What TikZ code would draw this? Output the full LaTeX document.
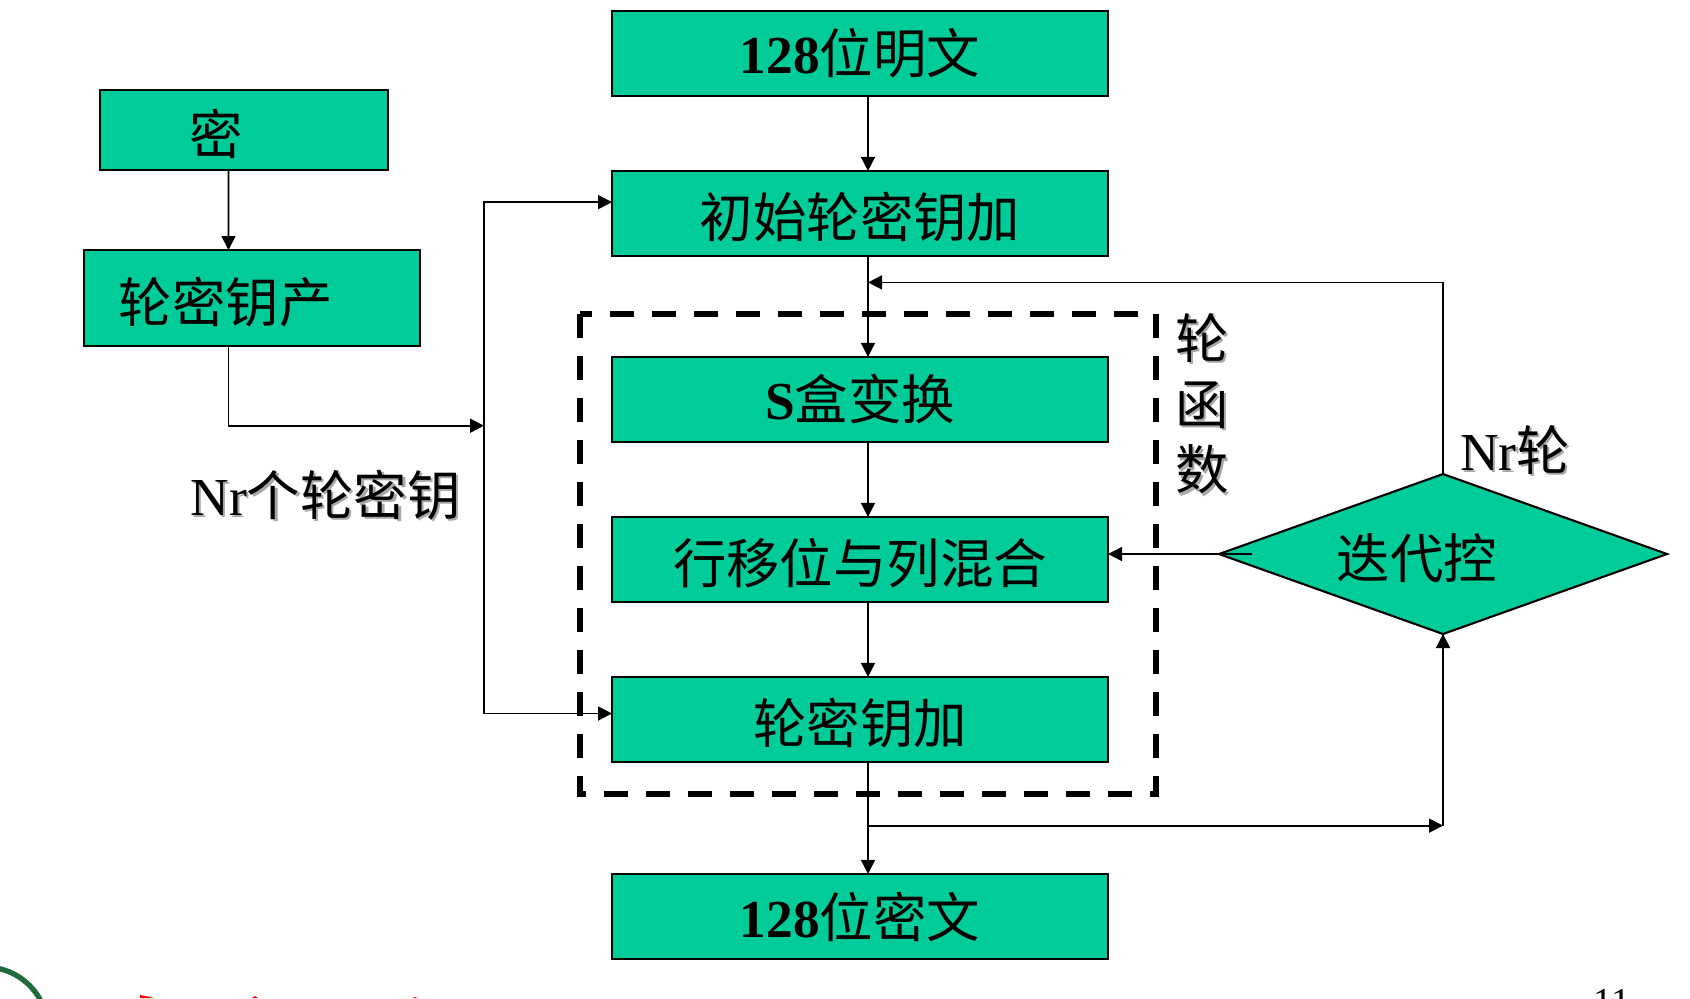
\documentclass[tikz,border=0pt]{standalone}
\usepackage{fontspec}
\setmainfont{Liberation Serif}
\newfontfamily\cjk{Noto Sans CJK SC}
\usetikzlibrary{arrows.meta,calc,positioning,shapes.geometric}
\definecolor{Teal}{HTML}{00CC99}
\definecolor{Shade}{HTML}{A8A8A8}
\definecolor{Seal}{HTML}{1F6B3A}
\newcommand{\shadowed}[1]{\leavevmode\rlap{\kern.7pt\raisebox{-.7pt}{\color{Shade}#1}}#1}
\tikzset{
  stagebox/.style={draw,fill=Teal,line width=.6pt,outer sep=0pt,minimum width=4.96cm,minimum height=.85cm,inner sep=0pt},
  keybox/.style={draw,fill=Teal,line width=.6pt,outer sep=0pt,inner sep=0pt},
  lowered/.style={text height=15.6pt,text depth=1.8pt},
  flow/.style={line width=.5pt,->}
}

\begin{document}
\begin{tikzpicture}[font=\fontsize{15.2}{18}\selectfont\cjk,>={Triangle[length=1.4mm,width=1.4mm]},node distance=.75cm]
    \useasboundingbox (0,0) rectangle (16.9,-9.98);
    \node[stagebox] (plain) at (8.60,-.534) {\textbf{\rmfamily 128}位明文};
    \node[stagebox,lowered,below=of plain] (init) {初始轮密钥加};
    \node[stagebox,below=1.01cm of init] (sbox) {\textbf{\rmfamily S}盒变换};
    \node[stagebox,lowered,below=of sbox] (shift) {行移位与列混合};
    \node[stagebox,lowered,below=of shift] (addkey) {轮密钥加};
    \node[stagebox,below=1.12cm of addkey] (cipher) {\textbf{\rmfamily 128}位密文};
    \node[keybox,lowered,minimum width=2.88cm,minimum height=.8cm] (seed) at (2.441,-1.304) {密\kern.55cm};
    \node[keybox,lowered,minimum width=3.36cm,minimum height=.96cm] (keygen) at (2.522,-2.98) {轮密钥产\kern.53cm};
    \node[draw,fill=Teal,lowered,line width=.6pt,outer sep=0pt,shape=diamond,aspect=2.8,inner sep=0pt,minimum width=4.48cm,minimum height=1.6cm] (ctrl) at (14.43,-5.54) {迭代控\kern.52cm};
    \draw[line width=1.7pt,dash pattern=on .24cm off .18cm] ($(sbox.north west)+(-.32,.43)$) rectangle ($(addkey.south east)+(.48,-.32)$);
    % labels
    \node (nrkeys) at (3.255,-4.958) {\shadowed{{\rmfamily Nr}个轮密钥}};
    \node[align=center,font=\fontsize{15.2}{18.7}\selectfont\cjk] (roundfn) at (12.02,-4.05) {\shadowed{轮}\\\shadowed{函}\\\shadowed{数}};
    \node (nrround) at (15.15,-4.51) {\shadowed{{\rmfamily Nr}轮}};
    % free ends of the connectors
    \coordinate (busIn) at (4.84,-4.257);
    \coordinate (returnEnd) at (8.68,-2.824);
    \coordinate (fork) at (8.68,-8.256);
    \coordinate (turn) at (ctrl.south |- fork);
    \coordinate (stub) at ($(ctrl.west)+(.33,0)$);
    \foreach \a/\b in {plain/init,init/sbox,sbox/shift,shift/addkey,addkey/cipher}{\draw[flow] ([xshift=.8mm]\a.south)--([xshift=.8mm]\b.north);}
    \draw[flow] ([xshift=-1.56mm]seed.south)--([xshift=-2.37mm]keygen.north);
    \draw[flow] ([xshift=-2.37mm]keygen.south) |- (busIn);
    \draw[flow] (busIn) |- ([yshift=1.13mm]init.west);
    \draw[flow] (busIn) |- ([yshift=.59mm]addkey.west);
    \draw[flow] (stub)--(stub -| shift.east);
    \draw[flow] (ctrl.north) |- (returnEnd);
    \draw[flow] (fork)--(turn);
    \draw[flow] (turn)--(ctrl.south);
    % what is left of the footer at the lower edge
    \draw[Seal,line width=1.5pt] (-.15,-10.3) circle (.63);
    \fill[red] (1.40,-9.98) -- (1.40,-9.95) -- (1.50,-9.97) -- (1.54,-9.98) -- cycle;
    \fill[red] (2.52,-9.98) -- (2.55,-9.96) -- (2.58,-9.98) -- cycle;
    \fill[red] (4.12,-9.98) -- (4.15,-9.97) -- (4.18,-9.98) -- cycle;
    \node[anchor=base,font=\fontsize{10.8}{13}\selectfont\rmfamily] (pageno) at (16.12,-10.147) {11};
\end{tikzpicture}
\end{document}
